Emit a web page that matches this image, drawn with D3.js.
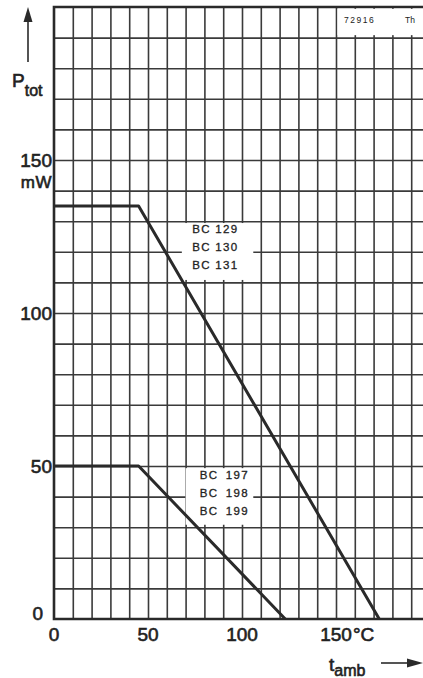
<!DOCTYPE html>
<html>
<head>
<meta charset="utf-8">
<script src="https://cdn.jsdelivr.net/npm/d3@7"></script>
<style>
  html, body { margin: 0; padding: 0; background: #fff; }
  svg { display: block; }
  text { font-family: "Liberation Sans", Arial, sans-serif; fill: #222; }
  text.heavy { stroke: #222; stroke-width: 0.6; }
  text.mid { stroke: #222; stroke-width: 0.3; }
</style>
</head>
<body>
<div class="board"></div>
<script>
// derating curves
var tempHigh = [0, 45, 173];      // t_amb (degC) for BC 129/130/131
var powHigh  = [135, 135, 0];     // P_tot (mW)
var tempLow  = [0, 45, 123];      // t_amb (degC) for BC 197/198/199
var powLow   = [50, 50, 0];       // P_tot (mW)
var namesHigh = ["BC 129", "BC 130", "BC 131"];
var namesLow  = ["BC 197", "BC 198", "BC 199"];
var xTicks = [0, 50, 100, 150];
var yTicks = [0, 50, 100, 150];

var opts = { width: 423, height: 678 };

var svg = d3.select(".board").append("svg")
  .attr("width", opts.width)
  .attr("height", opts.height);

// scales (0 degC at x=54, 150 degC at x=336; 0 mW at y=619, 200 mW at y=7)
var x = d3.scaleLinear().domain([0, 150]).range([54, 336]);
var y = d3.scaleLinear().domain([0, 200]).range([619, 7]);
var xEnd = x.invert(opts.width);

var ink = "#2a2a2a";

// grid
var grid = svg.append("g");
grid.append("g")
  .attr("transform", "translate(0," + y(0) + ")")
  .call(d3.axisBottom(x).tickValues(d3.range(10, 200, 10)).tickSize(-(y(0) - y(200))).tickFormat(""))
  .call(function (g) { g.select(".domain").remove(); })
  .selectAll("line").attr("stroke", "#3a3a3a").attr("stroke-width", 1.6);
grid.append("g")
  .attr("transform", "translate(" + x(0) + ",0)")
  .call(d3.axisLeft(y).tickValues(d3.range(10, 200, 10)).tickSize(-(opts.width - x(0))).tickFormat(""))
  .call(function (g) { g.select(".domain").remove(); })
  .selectAll("line").attr("stroke", "#3a3a3a").attr("stroke-width", 1.6);

// frame: left, bottom, top
svg.append("path")
  .attr("d", "M" + opts.width + "," + y(200) + "H" + x(0) + "V" + y(0) + "H" + opts.width)
  .attr("fill", "none").attr("stroke", ink).attr("stroke-width", 2.6);

// white boxes behind the labels
function box(t0, t1, p0, p1) {
  svg.append("rect")
    .attr("x", x(t0)).attr("y", y(p1))
    .attr("width", x(t1) - x(t0)).attr("height", y(p0) - y(p1))
    .attr("fill", "#fff");
}
box(68, 106, 110.8, 129.4);
box(70, 106, 30.8, 49.3);
box(150.8, xEnd, 190.8, 199.4);

// curves
var line = d3.line().x(function (d) { return x(d[0]); }).y(function (d) { return y(d[1]); });
[[tempHigh, powHigh], [tempLow, powLow]].forEach(function (s) {
  svg.append("path")
    .datum(d3.zip(s[0], s[1]))
    .attr("d", line)
    .attr("fill", "none")
    .attr("stroke", ink)
    .attr("stroke-width", 3)
    .attr("stroke-linejoin", "round");
});

// curve labels
function labels(names, t, p, ws) {
  svg.append("g").selectAll("text").data(names).enter().append("text")
    .attr("class", "mid")
    .attr("x", x(t))
    .attr("y", function (d, i) { return y(p) + i * 18; })
    .attr("font-size", 11.5)
    .attr("letter-spacing", 1.3)
    .attr("word-spacing", ws)
    .text(function (d) { return d; });
}
labels(namesHigh, 73.5, 126, 0);
labels(namesLow, 77.5, 45.7, 3);

// drawing number
svg.append("text").attr("x", 344).attr("y", 23).attr("font-size", 8.5).attr("letter-spacing", 1.5).text("72916");
svg.append("text").attr("x", 405).attr("y", 23).attr("font-size", 8.5).text("Th");

// tick labels
svg.append("g").selectAll("text").data(xTicks).enter().append("text")
  .attr("class", "heavy")
  .attr("x", function (d) { return x(d); })
  .attr("y", 641)
  .attr("text-anchor", "middle")
  .attr("font-size", 19)
  .text(function (d) { return d; });
svg.append("text").attr("class", "heavy").attr("x", x(150) + 17).attr("y", 641).attr("font-size", 19).text("°C");

svg.append("g").selectAll("text").data(yTicks).enter().append("text")
  .attr("class", "heavy")
  .attr("x", function (d) { return d === 0 ? 43 : 52; })
  .attr("y", function (d) { return y(d) + (d === 0 ? 1 : 7); })
  .attr("text-anchor", "end")
  .attr("font-size", 19)
  .text(function (d) { return d; });
svg.append("text").attr("class", "heavy").attr("x", 52).attr("y", 188).attr("text-anchor", "end")
  .attr("font-size", 17).attr("letter-spacing", 0.5).text("mW");

// axis titles with arrows
var pt = svg.append("text").attr("class", "heavy").attr("x", 12).attr("y", 87).attr("font-size", 19);
pt.append("tspan").text("P");
pt.append("tspan").attr("dy", 9).attr("font-size", 16).text("tot");
var ta = svg.append("text").attr("class", "heavy").attr("x", 329).attr("y", 671).attr("font-size", 19);
ta.append("tspan").text("t");
ta.append("tspan").attr("dy", 5).attr("font-size", 16).text("amb");

svg.append("line").attr("x1", 28).attr("x2", 28).attr("y1", 62).attr("y2", 18)
  .attr("stroke", ink).attr("stroke-width", 1.6);
svg.append("path").attr("d", "M28,7L23.5,22L32.5,22Z").attr("fill", ink);
svg.append("line").attr("x1", 381).attr("x2", 410).attr("y1", 663).attr("y2", 663)
  .attr("stroke", ink).attr("stroke-width", 1.6);
svg.append("path").attr("d", "M423,663L407,658.5L407,667.5Z").attr("fill", ink);
</script>
</body>
</html>
